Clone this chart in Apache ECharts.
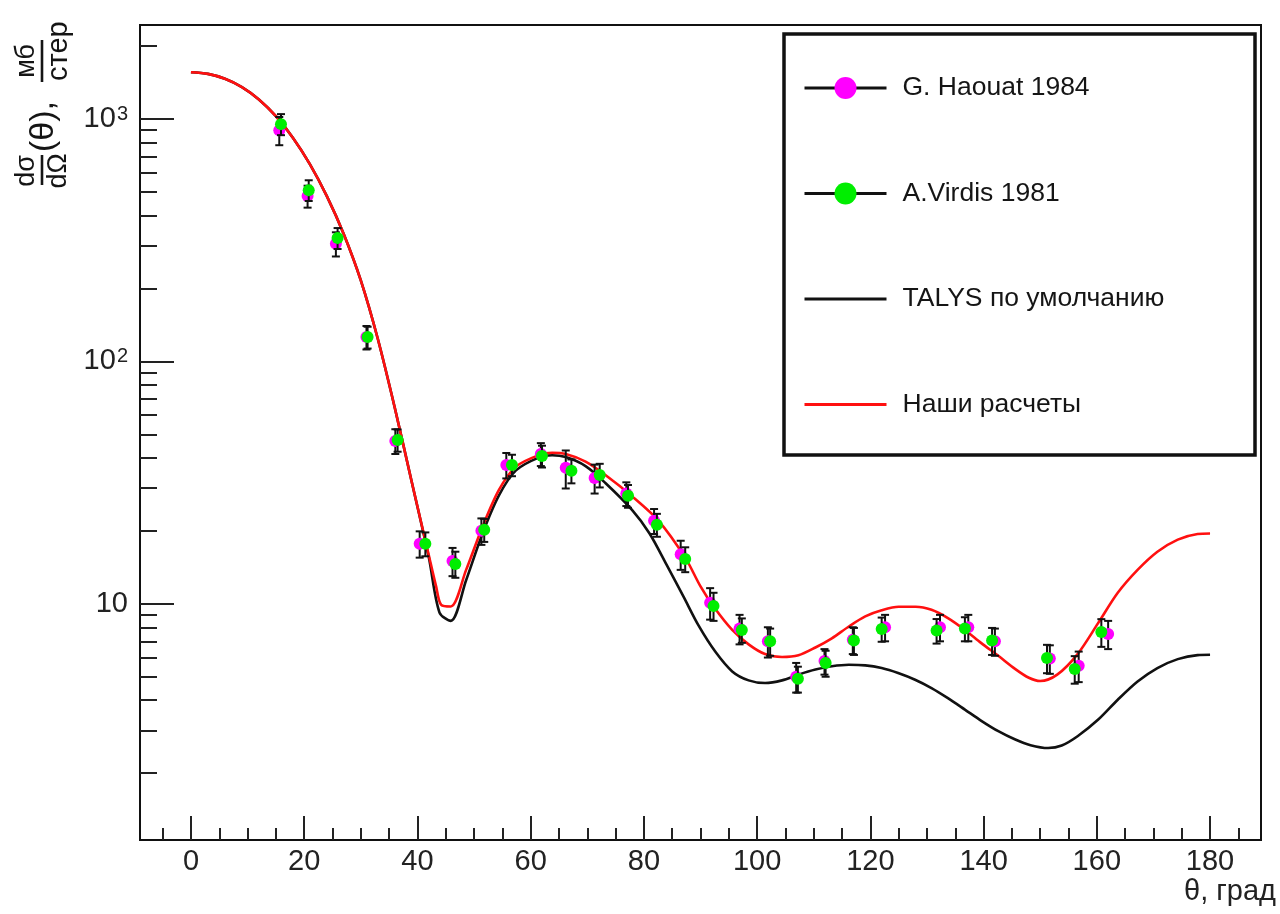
<!DOCTYPE html>
<html><head><meta charset="utf-8">
<script src="https://cdn.jsdelivr.net/npm/echarts@6/dist/echarts.min.js"></script>
<style>html,body{margin:0;padding:0;background:#fff}#c{width:1280px;height:914px}</style>
</head><body><div id="c"></div>
<script>
// ---- data ----
const xMajorTicks = [0, 20, 40, 60, 80, 100, 120, 140, 160, 180];
const xMinorTicks = [-5, 5, 10, 15, 25, 30, 35, 45, 50, 55, 65, 70, 75, 85, 90, 95, 105, 110, 115, 125, 130, 135, 145, 150, 155, 165, 170, 175, 185];
const yMajorTicks = [10, 100, 1000];
const yMinorTicks = [2, 3, 4, 5, 6, 7, 8, 9, 20, 30, 40, 50, 60, 70, 80, 90, 200, 300, 400, 500, 600, 700, 800, 900, 2000];

// [theta, value, error]
const haouat = [
  [15.6, 900, 120], [20.6, 481, 50], [25.6, 306, 35], [31.0, 126, 14], [36.1, 47, 5.5],
  [40.4, 17.7, 2.2], [46.2, 15.0, 2.0], [51.3, 20, 2.5], [55.7, 37.4, 4.5], [61.8, 41.5, 4.5],
  [66.2, 36.4, 6.5], [71.3, 33, 4.5], [76.9, 28.5, 3.2], [81.8, 22, 2.6], [86.5, 16, 2.2],
  [91.7, 10.1, 1.5], [96.9, 7.9, 1.1], [101.9, 7.0, 1.0], [106.9, 5.0, 0.7], [111.9, 5.8, 0.7],
  [116.9, 7.1, 0.9], [122.6, 8.0, 1.0], [132.3, 8.0, 1.0], [137.3, 8.0, 1.0], [142.0, 7.0, 0.9],
  [151.7, 5.94, 0.8], [156.8, 5.55, 0.8], [162.0, 7.5, 1.0]
];
const virdis = [
  [15.9, 953, 95], [20.8, 509, 50], [25.9, 323, 32], [31.2, 126, 13], [36.5, 47.4, 5],
  [41.4, 17.7, 2.0], [46.7, 14.6, 1.8], [51.8, 20.2, 2.2], [56.7, 37.4, 3.8], [62.0, 40.7, 4.2],
  [67.2, 35.4, 4.0], [72.2, 34.0, 3.8], [77.2, 27.9, 3.0], [82.3, 21.2, 2.3], [87.3, 15.3, 1.8],
  [92.3, 9.8, 1.3], [97.3, 7.8, 0.9], [102.3, 7.0, 0.9], [107.2, 4.9, 0.6], [112.1, 5.7, 0.7],
  [117.1, 7.05, 0.9], [122.0, 7.87, 0.9], [131.7, 7.75, 0.9], [136.7, 7.9, 0.9], [141.5, 7.05, 0.9],
  [151.2, 5.97, 0.8], [156.1, 5.38, 0.7], [160.8, 7.64, 1.0]
];
const talysDefault = [
  [0, 1560], [3, 1536], [6, 1466], [9, 1355], [12, 1205], [15, 1028], [18, 838], [21, 652],
  [24, 481], [27, 335], [30, 216], [33, 124], [36, 64.4], [39, 31.8], [42, 15.6], [43.9, 9.2],
  [45.9, 8.5], [48.6, 12.5], [51.5, 19.5], [54.4, 28], [57.4, 35.5], [61.5, 40.2], [63.8, 41],
  [66.2, 40.3], [69.7, 37], [73.2, 31.5], [77.9, 24.4], [81, 19.5], [84, 14.5], [87, 10.7],
  [89.7, 8.1], [92.6, 6.35], [95.6, 5.26], [98.5, 4.83], [101.4, 4.71], [104.4, 4.83],
  [107.3, 5.1], [110.3, 5.35], [113.2, 5.52], [116.2, 5.6], [119.1, 5.57], [122, 5.43],
  [124.9, 5.18], [127.9, 4.86], [130.8, 4.49], [133.7, 4.08], [136.7, 3.66], [139.6, 3.29],
  [142.6, 2.98], [145.5, 2.76], [148.3, 2.61], [151.4, 2.54], [153.8, 2.6], [156.6, 2.84],
  [160.2, 3.32], [163.7, 4.02], [167.2, 4.78], [170.7, 5.43], [174.3, 5.91], [177.8, 6.14], [180, 6.16]
];
const ourCalc = [
  [0, 1560], [3, 1536], [6, 1466], [9, 1355], [12, 1205], [15, 1028], [18, 838], [21, 652],
  [24, 481], [27, 335], [30, 216], [33, 124], [36, 64.4], [39, 31.8], [42, 15.9], [43.3, 11.8],
  [44.2, 9.9], [45.9, 9.75], [48.6, 13.8], [51.5, 20.8], [54.4, 29.5], [57.4, 36.8], [61.5, 41.1],
  [63.8, 42], [66.2, 41.5], [69.7, 38.6], [73.2, 34], [77.9, 27.8], [82.6, 22.0], [87.3, 15.5],
  [90, 11.8], [92.5, 9.6], [95.6, 7.8], [98.5, 6.8], [101.4, 6.2], [104.4, 6.03], [107.3, 6.13],
  [110.3, 6.6], [113.2, 7.2], [116.2, 8.06], [119.1, 8.87], [122, 9.4], [125, 9.72], [128, 9.72],
  [130.8, 9.44], [133.7, 8.73], [136.7, 7.8], [139.6, 6.88], [142.6, 6.1], [145.5, 5.4],
  [148, 4.95], [150, 4.8], [153, 5.1], [156.6, 6.2], [160.2, 8.3], [163.7, 11.1], [167.2, 13.8],
  [170.7, 16.4], [174.3, 18.4], [177.8, 19.4], [180, 19.5]
];
const names = ['G. Haouat 1984', 'A.Virdis 1981', 'TALYS по умолчанию', 'Наши расчеты'];

// ---- chart ----
const FONT = 'Liberation Sans, Arial, sans-serif';
const chart = echarts.init(document.getElementById('c'), null, {renderer: 'canvas'});

function errBar(params, api) {
  const x = api.value(0), y = api.value(1), e = api.value(2);
  const top = api.coord([x, y + e]);
  const bot = api.coord([x, y - e]);
  const hw = 4;
  const st = {stroke: '#111', lineWidth: 2};
  return {type: 'group', children: [
    {type: 'line', shape: {x1: top[0], y1: top[1], x2: bot[0], y2: bot[1]}, style: st},
    {type: 'line', shape: {x1: top[0] - hw, y1: top[1], x2: top[0] + hw, y2: top[1]}, style: st},
    {type: 'line', shape: {x1: bot[0] - hw, y1: bot[1], x2: bot[0] + hw, y2: bot[1]}, style: st}
  ]};
}

const yMin = 1.06, yMax = 2444;
const tickStyle = {color: '#222', width: 2};

const option = {
  animation: false,
  backgroundColor: '#fff',
  textStyle: {fontFamily: FONT},
  grid: {left: 140, right: 19, top: 25, bottom: 74, show: true, borderColor: '#111', borderWidth: 2, backgroundColor: 'transparent'},
  xAxis: [{
    type: 'value', min: -9, max: 189,
    axisLine: {show: true, onZero: false, lineStyle: {color: '#111', width: 2}},
    axisTick: {show: true, inside: true, length: 24, customValues: xMajorTicks, lineStyle: tickStyle},
    axisLabel: {customValues: xMajorTicks, fontSize: 29, color: '#222', margin: 7, fontFamily: FONT},
    splitLine: {show: false},
    name: 'θ, град', nameLocation: 'end', nameGap: 15,
    nameTextStyle: {fontSize: 29, color: '#222', align: 'right', verticalAlign: 'top', padding: [37, 0, 0, 0], fontFamily: FONT}
  }, {
    type: 'value', min: -9, max: 189, position: 'bottom',
    axisLine: {show: false, onZero: false},
    axisTick: {show: true, inside: true, length: 12, customValues: xMinorTicks, lineStyle: tickStyle},
    axisLabel: {show: false}, splitLine: {show: false}
  }],
  yAxis: [{
    type: 'log', logBase: 10, min: yMin, max: yMax,
    axisLine: {show: true, onZero: false, lineStyle: {color: '#111', width: 2}},
    axisTick: {show: true, inside: true, length: 34, customValues: yMajorTicks, lineStyle: tickStyle},
    axisLabel: {
      customValues: yMajorTicks, margin: 12, color: '#222',
      formatter: function (v) {
        const p = Math.round(Math.log10(v));
        return p === 1 ? '{b|10}' : '{b|10}{s|' + p + '}';
      },
      rich: {
        b: {fontSize: 29, lineHeight: 29, verticalAlign: 'bottom', color: '#222', fontFamily: FONT},
        s: {fontSize: 20, lineHeight: 20, verticalAlign: 'top', padding: [0, 0, 16, 1], color: '#222', fontFamily: FONT}
      }
    },
    splitLine: {show: false}
  }, {
    type: 'log', logBase: 10, min: yMin, max: yMax, position: 'left',
    axisLine: {show: false, onZero: false},
    axisTick: {show: true, inside: true, length: 17, customValues: yMinorTicks, lineStyle: tickStyle},
    axisLabel: {show: false}, splitLine: {show: false}
  }],
  legend: {
    orient: 'vertical', left: 803, top: 74.5, z: 10, padding: 0,
    itemWidth: 82, itemHeight: 27.5, itemGap: 78.5,
    selectedMode: false,
    textStyle: {fontSize: 26.5, color: '#151515', fontFamily: FONT, padding: [0, 0, 0, 11]},
    data: [
      {name: names[0], lineStyle: {opacity: 1, color: '#111', width: 3}},
      {name: names[1], lineStyle: {opacity: 1, color: '#111', width: 3}},
      {name: names[2], lineStyle: {color: '#111', width: 3}, itemStyle: {opacity: 0}},
      {name: names[3], lineStyle: {color: '#ff1010', width: 3}, itemStyle: {opacity: 0}}
    ]
  },
  graphic: [
    {type: 'rect', z: 3, shape: {x: 784, y: 34, width: 471, height: 421}, style: {fill: '#fff', stroke: '#111', lineWidth: 3.5}},
    {type: 'group', x: 42, y: 185, rotation: Math.PI / 2, children: [
      {type: 'text', x: 14, y: -15, style: {text: 'dσ', fontSize: 27, fontFamily: FONT, align: 'center', verticalAlign: 'middle', fill: '#151515'}},
      {type: 'text', x: 14, y: 17, style: {text: 'dΩ', fontSize: 27, fontFamily: FONT, align: 'center', verticalAlign: 'middle', fill: '#151515'}},
      {type: 'rect', shape: {x: 0, y: -1.3, width: 30, height: 2.6}, style: {fill: '#151515'}},
      {type: 'text', x: 33, y: 2, style: {text: '(θ),', fontSize: 34, fontFamily: FONT, align: 'left', verticalAlign: 'middle', fill: '#151515'}},
      {type: 'rect', shape: {x: 103, y: -1.3, width: 42, height: 2.6}, style: {fill: '#151515'}},
      {type: 'text', x: 124, y: -15, style: {text: 'мб', fontSize: 27, fontFamily: FONT, align: 'center', verticalAlign: 'middle', fill: '#151515'}},
      {type: 'text', x: 104, y: 17, style: {text: 'стер', fontSize: 29, fontFamily: FONT, align: 'left', verticalAlign: 'middle', fill: '#151515'}}
    ]}
  ],
  series: [
    {name: names[2], type: 'line', data: talysDefault, symbol: 'none', smooth: 0.3, z: 2,
     lineStyle: {color: '#111', width: 2.6}, itemStyle: {color: '#111'}},
    {name: names[3], type: 'line', data: ourCalc, symbol: 'none', smooth: 0.3, z: 2,
     lineStyle: {color: '#ff1010', width: 2.6}, itemStyle: {color: '#ff1010'}},
    {type: 'custom', data: haouat, encode: {x: 0, y: 1}, renderItem: errBar, z: 3, silent: true},
    {name: names[0], type: 'line', data: haouat.map(d => [d[0], d[1]]), symbol: 'circle', symbolSize: 12, z: 4,
     showSymbol: true, lineStyle: {opacity: 0, width: 0}, itemStyle: {color: '#ff00ff', borderWidth: 0}},
    {type: 'custom', data: virdis, encode: {x: 0, y: 1}, renderItem: errBar, z: 5, silent: true},
    {name: names[1], type: 'line', data: virdis.map(d => [d[0], d[1]]), symbol: 'circle', symbolSize: 12, z: 6,
     showSymbol: true, lineStyle: {opacity: 0, width: 0}, itemStyle: {color: '#00ee00', borderWidth: 0}}
  ]
};
chart.setOption(option);
</script></body></html>
